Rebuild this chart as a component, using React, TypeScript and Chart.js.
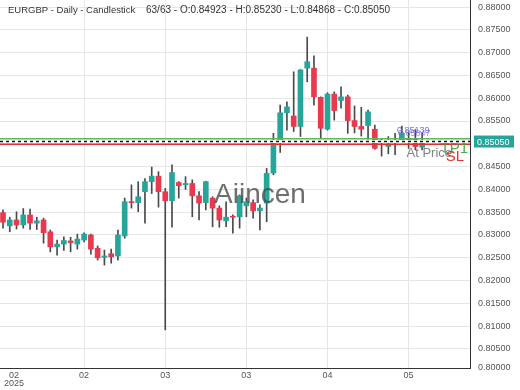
import React, { useEffect, useRef } from 'react';
import { Chart, registerables } from 'chart.js';

Chart.register(...registerables);

// ---- data ----
const opens = [
  0.8349, 0.8320, 0.8333, 0.8322, 0.8344, 0.8326, 0.8333, 0.8307, 0.8274, 0.8280,
  0.8287, 0.8280, 0.8289, 0.8300, 0.8271, 0.8251, 0.8259, 0.8254, 0.8298, 0.8373,
  0.8371, 0.8395, 0.8417, 0.8429, 0.8395, 0.8375, 0.8415, 0.8410, 0.8413, 0.8386,
  0.8371, 0.8381, 0.8359, 0.8331, 0.8340, 0.8340, 0.8364, 0.8371, 0.8353, 0.8370,
  0.8436, 0.8506, 0.8568, 0.8561, 0.8538, 0.8666, 0.8666, 0.8602, 0.8532, 0.8609,
  0.8595, 0.8603, 0.8551, 0.8538, 0.8540, 0.8532, 0.8505, 0.8494, 0.8503, 0.8507,
  0.8512, 0.8510, 0.84923,
];
const highs = [
  0.8355, 0.8339, 0.8351, 0.8358, 0.8357, 0.8339, 0.8337, 0.8311, 0.8289, 0.8296,
  0.8295, 0.8302, 0.8305, 0.8302, 0.8276, 0.8267, 0.8269, 0.8311, 0.8381, 0.8410,
  0.8417, 0.8424, 0.8449, 0.8439, 0.8402, 0.8454, 0.8417, 0.8428, 0.8421, 0.8395,
  0.8418, 0.8384, 0.8364, 0.8373, 0.8344, 0.8388, 0.8381, 0.8377, 0.8366, 0.8446,
  0.8523, 0.8585, 0.8592, 0.8658, 0.8663, 0.8734, 0.8693, 0.8603, 0.8612, 0.8614,
  0.8625, 0.8607, 0.8583, 0.8580, 0.8574, 0.8541, 0.8512, 0.8516, 0.8523, 0.8539,
  0.8525, 0.8531, 0.85230,
];
const lows = [
  0.8315, 0.8307, 0.8313, 0.8315, 0.8312, 0.8312, 0.8282, 0.8263, 0.8256, 0.8266,
  0.8263, 0.8269, 0.8285, 0.8258, 0.8245, 0.8234, 0.8238, 0.8245, 0.8293, 0.8359,
  0.8351, 0.8326, 0.8391, 0.8361, 0.8092, 0.8317, 0.8381, 0.8400, 0.8340, 0.8333,
  0.8355, 0.8318, 0.8317, 0.8318, 0.8304, 0.8315, 0.8340, 0.8337, 0.8311, 0.8329,
  0.8432, 0.8481, 0.8530, 0.8527, 0.8516, 0.8636, 0.8585, 0.8512, 0.8530, 0.8552,
  0.8578, 0.8523, 0.8524, 0.8517, 0.8510, 0.8488, 0.8473, 0.8478, 0.8476, 0.8505,
  0.8490, 0.8487, 0.84868,
];
const closes = [
  0.8328, 0.8333, 0.8322, 0.8344, 0.8326, 0.8331, 0.8305, 0.8274, 0.8280, 0.8288,
  0.8283, 0.8291, 0.8302, 0.8269, 0.8250, 0.8254, 0.8252, 0.8300, 0.8373, 0.8371,
  0.8384, 0.8417, 0.8429, 0.8395, 0.8375, 0.8437, 0.8408, 0.8413, 0.8386, 0.8370,
  0.8417, 0.8359, 0.8333, 0.8339, 0.8339, 0.8386, 0.8373, 0.8353, 0.8359, 0.8435,
  0.8506, 0.8568, 0.8581, 0.8538, 0.8662, 0.8680, 0.8603, 0.8534, 0.8609, 0.8573,
  0.8603, 0.8551, 0.8538, 0.8532, 0.8570, 0.8490, 0.8503, 0.8497, 0.8505, 0.8523,
  0.8509, 0.8494, 0.85050,
];

const xTickValues = [0, 12, 24, 36, 48, 60];
const xTickLabels = [['02', '2025'], ['02'], ['03'], ['03'], ['04'], ['05']];
const yTickValues = [
  0.805, 0.81, 0.815, 0.82, 0.825, 0.83, 0.835, 0.84, 0.845, 0.85, 0.855, 0.86,
  0.865, 0.87, 0.875, 0.88,
];
const Y_MIN = 0.80083;
const Y_MAX = 0.88154;
const X_MIN = -0.444;
const X_MAX = 69.08;

const lastPrice = 0.8505;
const tp1Level = 0.8511;
const atPriceLevel = 0.8505;
const slLevel = 0.8499;
const orderLabels = ['0.85139', '0.85047'];

const titleText = 'EURGBP - Daily - Candlestick';
const statsText = '63/63 - O:0.84923 - H:0.85230 - L:0.84868 - C:0.85050';
const watermark = 'Aiincen';

const GREEN = '#26a69a';
const RED = '#e8394f';
const FONT = '"Liberation Sans", Arial, sans-serif';

const overlayPlugin = {
  id: 'overlay',
  afterDatasetsDraw(chart: any) {
    const { ctx, chartArea, scales } = chart;
    const y = scales.y;
    const left = chartArea.left;
    const right = chartArea.right;
    ctx.save();
    // level lines
    const yTp = y.getPixelForValue(tp1Level);
    ctx.strokeStyle = '#5cb85c';
    ctx.lineWidth = 1.5;
    ctx.beginPath();
    ctx.moveTo(left, yTp);
    ctx.lineTo(right, yTp);
    ctx.stroke();

    const yAt = y.getPixelForValue(atPriceLevel);
    ctx.strokeStyle = '#ffffff';
    ctx.lineWidth = 3;
    ctx.beginPath();
    ctx.moveTo(left, yAt);
    ctx.lineTo(right, yAt);
    ctx.stroke();
    ctx.strokeStyle = '#111111';
    ctx.lineWidth = 1.5;
    ctx.setLineDash([3, 3]);
    ctx.beginPath();
    ctx.moveTo(left, yAt);
    ctx.lineTo(right, yAt);
    ctx.stroke();
    ctx.setLineDash([]);

    const ySl = y.getPixelForValue(slLevel);
    ctx.strokeStyle = '#e03030';
    ctx.lineWidth = 1.5;
    ctx.beginPath();
    ctx.moveTo(left, ySl);
    ctx.lineTo(right, ySl);
    ctx.stroke();

    // order labels
    ctx.textBaseline = 'middle';
    ctx.textAlign = 'left';
    ctx.font = `9px ${FONT}`;
    ctx.fillStyle = 'rgba(80,110,220,0.9)';
    ctx.fillText(orderLabels[0], 397, yTp - 8);
    ctx.fillStyle = 'rgba(140,100,210,0.8)';
    ctx.fillText(orderLabels[1], 398, yTp - 5);

    ctx.textAlign = 'right';
    ctx.font = `13px ${FONT}`;
    ctx.fillStyle = 'rgba(110,110,110,0.85)';
    ctx.fillText('At Price', 452, yAt + 12);
    ctx.font = `15px ${FONT}`;
    ctx.fillStyle = 'rgba(60,160,60,0.9)';
    ctx.fillText('TP1', 468, yTp + 10);
    ctx.fillStyle = 'rgba(220,40,40,0.95)';
    ctx.fillText('SL', 464, ySl + 13);

    // watermark
    ctx.textAlign = 'center';
    ctx.textBaseline = 'alphabetic';
    ctx.font = `28px ${FONT}`;
    ctx.fillStyle = 'rgba(70,70,70,0.78)';
    ctx.fillText(watermark, 260, 203);
    ctx.restore();
  },
  afterDraw(chart: any) {
    const { ctx, chartArea, scales } = chart;
    const y = scales.y;
    const x = scales.x;
    ctx.save();
    // title
    ctx.fillStyle = '#333';
    ctx.textAlign = 'left';
    ctx.textBaseline = 'middle';
    ctx.font = `9.5px ${FONT}`;
    ctx.fillText(titleText, 8, 10);
    ctx.font = `10px ${FONT}`;
    ctx.fillText(statsText, 146, 10);

    // x labels
    ctx.font = `9px ${FONT}`;
    ctx.fillStyle = '#555';
    ctx.textAlign = 'center';
    xTickValues.forEach((v, i) => {
      const lines = xTickLabels[i];
      let w = 0;
      lines.forEach((l) => { w = Math.max(w, ctx.measureText(l).width); });
      const px = Math.max(x.getPixelForValue(v), chartArea.left + w / 2 + 4);
      lines.forEach((l, j) => {
        ctx.fillText(l, px, chartArea.bottom + 7.5 + j * 8.5);
      });
    });

    // last price box
    const yp = y.getPixelForValue(lastPrice);
    ctx.fillStyle = '#26a69a';
    ctx.fillRect(chartArea.right + 4, yp - 6, 40, 12);
    ctx.fillStyle = '#ffffff';
    ctx.textAlign = 'left';
    ctx.font = `9px ${FONT}`;
    ctx.fillText(lastPrice.toFixed(5), chartArea.right + 7, yp + 0.5);
    ctx.restore();
  },
};

export default function App() {
  const canvasRef = useRef<HTMLCanvasElement | null>(null);

  useEffect(() => {
    if (!canvasRef.current) return;
    const bodyColors = opens.map((o, i) => (closes[i] >= o ? GREEN : RED));
    const chart = new Chart(canvasRef.current, {
      type: 'bar',
      data: {
        datasets: [
          {
            label: 'body',
            data: opens.map((o, i) => ({ x: i, y: [o, closes[i]] })) as any,
            backgroundColor: bodyColors,
            barThickness: 5,
            grouped: false,
            minBarLength: 1,
            order: 0,
          } as any,
          {
            label: 'wick',
            data: lows.map((l, i) => ({ x: i, y: [l, highs[i]] })) as any,
            backgroundColor: '#4a4a4a',
            barThickness: 1,
            grouped: false,
            order: 1,
          } as any,
        ],
      },
      options: {
        animation: false,
        responsive: false,
        layout: { padding: 0 },
        plugins: { legend: { display: false }, tooltip: { enabled: false } },
        scales: {
          x: {
            type: 'linear',
            min: X_MIN,
            max: X_MAX,
            offset: false,
            grid: {
              offset: false,
              drawTicks: false,
              color: (c: any) => (c.index === 0 ? 'rgba(0,0,0,0)' : '#e6e6e6'),
            },
            border: { color: '#333', width: 1 },
            ticks: { display: false },
            afterBuildTicks: (s: any) => {
              s.ticks = xTickValues.map((v) => ({ value: v }));
            },
            afterFit: (s: any) => {
              s.height = 22;
              s.paddingLeft = 0;
              s.paddingRight = 0;
              s.paddingTop = 0;
              s.paddingBottom = 0;
            },
          } as any,
          y: {
            type: 'linear',
            position: 'right',
            min: Y_MIN,
            max: Y_MAX,
            grid: { drawTicks: false, color: '#e6e6e6' },
            border: { color: '#333', width: 1 },
            ticks: {
              padding: 8,
              color: '#555',
              font: { size: 9, family: FONT },
              callback: (v: any) => {
                const n = Number(v);
                if (n === Y_MIN) return (Math.floor(n * 200) / 200).toFixed(5);
                return n.toFixed(5);
              },
            },
            afterBuildTicks: (s: any) => {
              s.ticks = [Y_MIN, ...yTickValues].map((v) => ({ value: v }));
            },
            afterFit: (s: any) => {
              s.width = 50;
              s.paddingTop = 0;
              s.paddingBottom = 0;
              s.paddingLeft = 0;
              s.paddingRight = 0;
            },
          } as any,
        },
      },
      plugins: [overlayPlugin],
    });
    return () => chart.destroy();
  }, []);

  return (
    <div style={{ position: 'absolute', left: 0, top: 0, width: 520, height: 390, background: '#fff' }}>
      <canvas ref={canvasRef} width={520} height={390} style={{ display: 'block' }} />
    </div>
  );
}
